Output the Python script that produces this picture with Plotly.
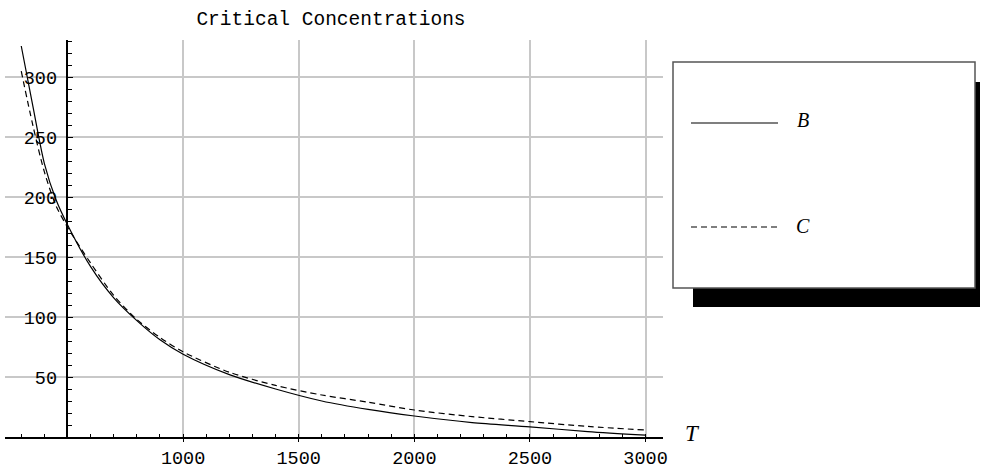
import plotly.graph_objects as go

# ---- data ----
T_vals = [300, 350, 400, 450, 500, 600, 700, 800, 900, 1000, 1200, 1400,
          1600, 1800, 2000, 2250, 2500, 2750, 3000]
B_vals = [326, 276, 228, 198, 177, 142, 116, 97, 81, 69, 52, 40,
          30, 23, 17.5, 12, 8.5, 4.5, 1.5]
C_vals = [305, 260, 221, 193, 175, 145, 118, 98, 83, 71, 54, 43,
          35, 29, 22.5, 17, 12.8, 8.8, 5.8]
series_names = ["B", "C"]
x_ticks = [1000, 1500, 2000, 2500, 3000]
y_ticks = [50, 100, 150, 200, 250, 300]
title_text = "Critical Concentrations"
x_label = "T"

# ---- layout geometry (pixels) ----
W, H = 982, 469
L, R, TOP, BOT = 5, 663, 40, 437
PW, PH = R - L, BOT - TOP
X_RANGE = [229.7, 3075.5]
Y_RANGE = [0, 331]
Y_AXIS_AT = 500


def px(x):
    return (x - L) / PW


def py(y):
    return (BOT - y) / PH


mono = "Liberation Mono, Courier New, monospace"
serif = "Liberation Serif, Times New Roman, serif"

fig = go.Figure()
fig.add_trace(go.Scatter(x=T_vals, y=B_vals, mode="lines", name=series_names[0],
                         line=dict(color="black", width=1.2, shape="spline", smoothing=0.8)))
fig.add_trace(go.Scatter(x=T_vals, y=C_vals, mode="lines", name=series_names[1],
                         line=dict(color="black", width=1.2, dash="6px,4px",
                                   shape="spline", smoothing=0.8)))

grid = "#c8c8c8"
fig.update_layout(
    width=W, height=H,
    margin=dict(l=L, r=W - R, t=TOP, b=H - BOT, pad=0),
    paper_bgcolor="white", plot_bgcolor="white",
    showlegend=False,
    title=dict(text=title_text, x=(331 - L) / PW, xref="paper", xanchor="center",
               y=1 - 18 / H, yref="container", yanchor="middle",
               font=dict(family=mono, size=19.5, color="black")),
    xaxis=dict(range=X_RANGE, showline=True, linecolor="black", linewidth=1.5,
               tickmode="array", tickvals=x_ticks, ticktext=[str(v) for v in x_ticks],
               ticks="outside", ticklen=3, tickwidth=1.2, tickcolor="black",
               showgrid=True, gridcolor=grid, gridwidth=1.5, zeroline=False,
               tickfont=dict(family=mono, size=18.5, color="black"),
               ticklabelstandoff=0,
               minor=dict(tickmode="linear", tick0=0, dtick=100, ticks="inside",
                          ticklen=3, tickwidth=1.2, tickcolor="black", showgrid=False),
               automargin=False),
    yaxis=dict(range=Y_RANGE, anchor="free",
               position=(Y_AXIS_AT - X_RANGE[0]) / (X_RANGE[1] - X_RANGE[0]),
               showline=True, linecolor="black", linewidth=1.5,
               tickmode="array", tickvals=y_ticks, ticktext=[str(v) for v in y_ticks],
               ticks="inside", ticklen=5, tickwidth=1.2, tickcolor="black",
               showgrid=True, gridcolor=grid, gridwidth=1.5, zeroline=False,
               tickfont=dict(family=mono, size=18.5, color="black"),
               ticklabelstandoff=6,
               minor=dict(tickmode="linear", tick0=0, dtick=10, ticks="inside",
                          ticklen=4, tickwidth=1.2, tickcolor="black", showgrid=False),
               automargin=False),
)

shapes = []
# legend shadow and box
shapes.append(dict(type="rect", xref="paper", yref="paper",
                   x0=px(693), x1=px(980), y0=py(307), y1=py(82),
                   fillcolor="black", line=dict(width=0), layer="above"))
shapes.append(dict(type="rect", xref="paper", yref="paper",
                   x0=px(673), x1=px(975), y0=py(288), y1=py(62),
                   fillcolor="white", line=dict(color="#555555", width=1.5), layer="above"))
# legend samples
shapes.append(dict(type="line", xref="paper", yref="paper",
                   x0=px(691), x1=px(778), y0=py(123), y1=py(123),
                   line=dict(color="black", width=1.2), layer="above"))
shapes.append(dict(type="line", xref="paper", yref="paper",
                   x0=px(691), x1=px(778), y0=py(227), y1=py(227),
                   line=dict(color="black", width=1.2, dash="6px,4px"), layer="above"))
fig.update_layout(shapes=shapes)

annotations = [
    dict(text=series_names[0], xref="paper", yref="paper", x=px(803), y=py(120),
         xanchor="center", yanchor="middle", showarrow=False,
         font=dict(family=serif, size=20, color="black", style="italic")),
    dict(text=series_names[1], xref="paper", yref="paper", x=px(803), y=py(226),
         xanchor="center", yanchor="middle", showarrow=False,
         font=dict(family=serif, size=20, color="black", style="italic")),
    dict(text=x_label, xref="paper", yref="paper", x=px(692), y=py(433),
         xanchor="center", yanchor="middle", showarrow=False,
         font=dict(family=serif, size=23, color="black", style="italic")),
]
fig.update_layout(annotations=annotations)

fig.write_html("out.html")
